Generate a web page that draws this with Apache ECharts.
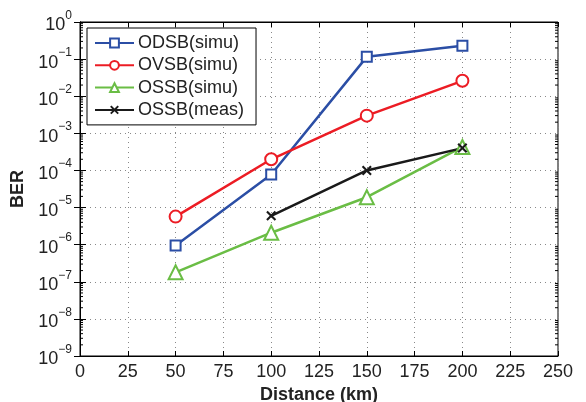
<!DOCTYPE html>
<html>
<head>
<meta charset="utf-8">
<script src="https://cdn.jsdelivr.net/npm/echarts@6/dist/echarts.min.js"></script>
<style>html,body{margin:0;padding:0;background:#fff}#c{width:586px;height:402px}</style>
</head>
<body>
<div id="c"></div>
<script>
// ---- data ----
const distances = [50, 100, 150, 200];
const odsbSimu = [9.5e-7, 7.8e-5, 0.115, 0.23];
const ovsbSimu = [5.7e-6, 2.0e-4, 3.0e-3, 2.6e-2];
const ossbSimu = [1.8e-7, 2.1e-6, 1.9e-5, 4.3e-4];
const measDistances = [100, 150, 200];
const ossbMeas = [6.0e-6, 1.0e-4, 4.0e-4];
const seriesNames = ['ODSB(simu)', 'OVSB(simu)', 'OSSB(simu)', 'OSSB(meas)'];
const xTicks = [0, 25, 50, 75, 100, 125, 150, 175, 200, 225, 250];
const yMinExp = -9, yMaxExp = 0;

const FONT = '"Liberation Sans", Arial, Helvetica, sans-serif';
const TXT = '#222';

function pairs(xs, ys) { return xs.map((x, i) => [x, ys[i]]); }

// minor tick positions (2..9 within each decade)
const minorVals = [];
for (let e = yMinExp; e < yMaxExp; e++) {
  for (let m = 2; m <= 9; m++) minorVals.push(m * Math.pow(10, e));
}

const crossPath = 'path://M1.5,0L5,3.5L8.5,0L10,1.5L6.5,5L10,8.5L8.5,10L5,6.5L1.5,10L0,8.5L3.5,5L0,1.5Z';

const chart = echarts.init(document.getElementById('c'), null, { renderer: 'canvas' });
chart.setOption({
  animation: false,
  backgroundColor: '#fff',
  textStyle: { fontFamily: FONT },
  grid: { left: 80, right: 28, top: 22, bottom: 46, containLabel: false, outerBoundsMode: 'none',
    show: true, borderColor: '#000', borderWidth: 1, backgroundColor: 'transparent' },
  legend: {
    data: seriesNames,
    orient: 'vertical',
    left: 87, top: 28,
    padding: [6, 12, 6, 7],
    itemGap: 4.3,
    itemWidth: 39,
    itemHeight: 11,
    borderColor: '#000', borderWidth: 1,
    backgroundColor: '#fff',
    textStyle: { fontSize: 18, color: TXT, fontFamily: FONT, padding: [0, 0, 0, -1] }
  },
  xAxis: [{
    type: 'value', min: 0, max: 250, interval: 25,
    axisLine: { show: true, lineStyle: { color: '#000', width: 1 } },
    axisTick: { show: true, inside: true, length: 5, lineStyle: { color: '#000' } },
    axisLabel: { fontSize: 18, color: TXT, margin: 7, fontFamily: FONT,
      formatter: v => xTicks.includes(v) ? String(v) : '' },
    splitLine: { show: true, lineStyle: { color: '#888', type: [1, 4], width: 1 } },
    name: 'Distance (km)', nameLocation: 'middle', nameGap: 20,
    nameTextStyle: { fontSize: 18, fontWeight: 'bold', color: TXT, fontFamily: FONT }
  }, {
    type: 'value', min: 0, max: 250, interval: 25, position: 'top',
    axisLine: { show: true, lineStyle: { color: '#000' } },
    axisTick: { show: true, inside: true, length: 5, lineStyle: { color: '#000' } },
    axisLabel: { show: false }, splitLine: { show: false }
  }],
  yAxis: [{
    type: 'log', logBase: 10, min: Math.pow(10, yMinExp), max: Math.pow(10, yMaxExp), interval: 1, splitNumber: 9,
    axisLine: { show: true, lineStyle: { color: '#000', width: 1 } },
    axisTick: { show: true, inside: true, length: 6, lineStyle: { color: '#000' } },
    axisLabel: {
      margin: 8, color: TXT, fontFamily: FONT,
      formatter: v => {
        const e = Math.round(Math.log10(v));
        return '{b|10}{s|' + (e < 0 ? '\u2212' + (-e) : e) + '}';
      },
      rich: {
        b: { fontSize: 18, color: TXT, fontFamily: FONT, padding: [7, 0, 0, 0] },
        s: { fontSize: 12, color: TXT, fontFamily: FONT, verticalAlign: 'top', padding: [0, 0, 9, 0] }
      }
    },
    splitLine: { show: true, lineStyle: { color: '#888', type: [1, 4], width: 1 } },
    name: 'BER', nameLocation: 'middle', nameGap: 46,
    nameTextStyle: { fontSize: 18, fontWeight: 'bold', color: TXT, fontFamily: FONT }
  }, {
    type: 'log', logBase: 10, min: Math.pow(10, yMinExp), max: Math.pow(10, yMaxExp), interval: 1, position: 'right',
    axisLine: { show: true, lineStyle: { color: '#000' } },
    axisTick: { show: true, inside: true, length: 6, lineStyle: { color: '#000' } },
    axisLabel: { show: false }, splitLine: { show: false }
  }],
  series: [
    {
      name: 'minor', type: 'custom', silent: true, z: 5,
      data: minorVals.map(v => [0, v]),
      renderItem: (params, api) => {
        const v = api.value(1);
        const l = api.coord([0, v]);
        const r = api.coord([250, v]);
        return { type: 'group', children: [
          { type: 'line', shape: { x1: l[0], y1: l[1], x2: l[0] + 3, y2: l[1] }, style: { stroke: '#000', lineWidth: 1 } },
          { type: 'line', shape: { x1: r[0], y1: r[1], x2: r[0] - 3, y2: r[1] }, style: { stroke: '#000', lineWidth: 1 } }
        ] };
      }
    },
    {
      name: seriesNames[0], type: 'line', data: pairs(distances, odsbSimu),
      symbol: 'emptyRect', symbolSize: 10,
      lineStyle: { color: '#2B4EA5', width: 2.5 },
      itemStyle: { color: '#2B4EA5', borderColor: '#2B4EA5', borderWidth: 2.5 }
    },
    {
      name: seriesNames[1], type: 'line', data: pairs(distances, ovsbSimu),
      symbol: 'emptyCircle', symbolSize: 12,
      lineStyle: { color: '#EC1C24', width: 2.5 },
      itemStyle: { color: '#EC1C24', borderColor: '#EC1C24', borderWidth: 2.5 }
    },
    {
      name: seriesNames[2], type: 'line', data: pairs(distances, ossbSimu),
      symbol: 'emptyTriangle', symbolSize: 14,
      lineStyle: { color: '#6ABD45', width: 2.5 },
      itemStyle: { color: '#6ABD45', borderColor: '#6ABD45', borderWidth: 2.5 }
    },
    {
      name: seriesNames[3], type: 'line', data: pairs(measDistances, ossbMeas),
      symbol: crossPath, symbolSize: 10,
      lineStyle: { color: '#1a1a1a', width: 2.5 },
      itemStyle: { color: '#1a1a1a' }
    }
  ]
});
</script>
</body>
</html>
